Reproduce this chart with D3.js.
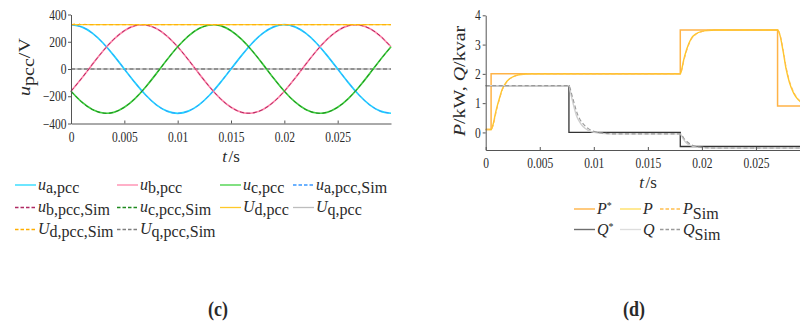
<!DOCTYPE html>
<html><head><meta charset="utf-8">
<script src="https://cdn.jsdelivr.net/npm/d3@7"></script>
<style>body{margin:0;background:#fff}svg{display:block}text{font-family:"Liberation Serif","DejaVu Serif",serif}</style>
</head><body>
<svg id="c" width="800" height="327"></svg>
<script>
// ---------- data: panel (c) ----------
const tU = [0,0.001,0.002,0.003,0.004,0.005,0.006,0.007,0.008,0.009,0.010,0.011,0.012,0.013,0.014,0.015,0.016,0.017,0.018,0.019,0.020,0.021,0.022,0.023,0.024,0.025,0.026,0.027,0.028,0.029,0.030];
const uA = [325,309,263,191,100,0,-100,-191,-263,-309,-325,-309,-263,-191,-100,0,100,191,263,309,325,309,263,191,100,0,-100,-191,-263,-309,-325];
const uB = [-163,-68,34,132,217,281,318,323,297,242,163,68,-34,-132,-217,-281,-318,-323,-297,-242,-163,-68,34,132,217,281,318,323,297,242,163];
const uC = [-163,-242,-297,-323,-318,-281,-217,-132,-34,68,163,242,297,323,318,281,217,132,34,-68,-163,-242,-297,-323,-318,-281,-217,-132,-34,68,163];
const uASim = [325,309,263,191,100,0,-100,-191,-263,-309,-325,-309,-263,-191,-100,0,100,191,263,309,325,309,263,191,100,0,-100,-191,-263,-309,-325];
const uBSim = [-163,-68,34,132,217,281,318,323,297,242,163,68,-34,-132,-217,-281,-318,-323,-297,-242,-163,-68,34,132,217,281,318,323,297,242,163];
const uCSim = [-163,-242,-297,-323,-318,-281,-217,-132,-34,68,163,242,297,323,318,281,217,132,34,-68,-163,-242,-297,-323,-318,-281,-217,-132,-34,68,163];
const tUd = [0,0.03];
const uD = [325,325];
const tUdSim = [0,0.0004,0.0006,0.0008,0.001,0.0013,0.0016,0.03];
const uDSim = [325,331,322,330,323,328,325,325];
const tUq = [0,0.03];
const uQ = [0,0];
const uQSim = [0,0];
const uTicks = [-400,-200,0,200,400];
const uTickLabels = ['\u2212400','\u2212200','0','200','400'];
const tTicks = [0,0.005,0.01,0.015,0.02,0.025];
const tTickLabels = ['0','0.005','0.01','0.015','0.02','0.025'];

// ---------- data: panel (d) ----------
const tPref = [0,0.0005,0.018,0.027,0.03];
const pRef  = [0.1,2,3.5,0.9,0.9];
const tQref = [0,0.0077,0.018,0.03];
const qRef  = [1.6,0,-0.48,-0.48];
const tP = [0,0.0005,0.0007,0.0009,0.0011,0.0013,0.0015,0.0018,0.0022,0.0027,0.0033,0.004,0.018,0.0181,0.0183,0.0186,0.019,0.0195,0.02,0.0205,0.0212,0.022,0.027,0.0272,0.0275,0.0278,0.0281,0.0285,0.0289,0.0294,0.03];
const pMeas = [0.1,0.1,0.3,0.65,0.95,1.2,1.45,1.66,1.83,1.93,1.98,2.0,2.0,2.1,2.45,2.85,3.2,3.38,3.45,3.48,3.5,3.5,3.5,3.35,2.8,2.15,1.7,1.33,1.12,0.99,0.93];
const pSim  = [0.1,0.1,0.25,0.58,0.9,1.16,1.41,1.63,1.81,1.92,1.98,2.0,2.0,2.08,2.4,2.8,3.16,3.36,3.44,3.48,3.5,3.5,3.5,3.38,2.86,2.22,1.76,1.38,1.15,1.0,0.93];
const tQ = [0,0.0077,0.0078,0.008,0.0082,0.0084,0.0087,0.009,0.0095,0.01,0.011,0.012,0.018,0.0181,0.0183,0.0186,0.019,0.0195,0.0202,0.021,0.03];
const qMeas = [1.6,1.6,1.45,1.12,0.82,0.57,0.35,0.2,0.07,0.0,-0.04,-0.05,-0.05,-0.1,-0.24,-0.37,-0.45,-0.5,-0.52,-0.53,-0.53];
const qSim  = [1.6,1.6,1.52,1.25,0.98,0.72,0.46,0.3,0.13,0.04,-0.03,-0.05,-0.05,-0.07,-0.18,-0.31,-0.41,-0.48,-0.52,-0.53,-0.53];
const pqTicks = [0,1,2,3,4];
const pqTickLabels = ['0','1','2','3','4'];

// ---------- drawing ----------
const svg = d3.select('#c');
const FONT = '"Liberation Serif","DejaVu Serif",serif';
const TXT = '#2a2a2a';
const AX = '#555';

function rich(parent, x, y, parts, o = {}) {
  const size = o.size || 16, sy = o.sy || 1, rot = o.rot || 0;
  const g = parent.append('g').attr('transform', `translate(${x},${y}) scale(1,${sy}) rotate(${rot})`);
  const t = g.append('text').style('font-family', FONT).attr('font-size', size).attr('fill', TXT)
    .attr('text-anchor', o.anchor || 'start').attr('font-weight', o.weight || 'normal');
  let cur = 0;
  parts.forEach(p => {
    const off = p.off || 0;
    const s = t.append('tspan').text(p.t).attr('dy', off - cur);
    cur = off;
    if (p.it) s.attr('font-style', 'italic');
    if (p.size) s.attr('font-size', p.size);
    if (p.dx) s.attr('dx', p.dx);
  });
  return g;
}

function drawAxes(g, x, y, xt, xtl, yt, ytl, xLabY, yLabX) {
  const ax = g.append('g').attr('transform', `translate(0,${y.range()[0]})`)
    .call(d3.axisBottom(x).tickValues(xt).tickFormat((d, i) => xtl[i]).tickSizeInner(-3).tickSizeOuter(0));
  const ay = g.append('g').attr('transform', `translate(${x.range()[0]},0)`)
    .call(d3.axisLeft(y).tickValues(yt).tickFormat((d, i) => ytl[i]).tickSizeInner(3).tickSizeOuter(0));
  [ax, ay].forEach(a => {
    a.attr('font-family', null);
    a.select('.domain').attr('stroke', AX);
    a.selectAll('.tick line').attr('stroke', AX);
    a.selectAll('.tick text').attr('fill', TXT).style('font-family', FONT).attr('font-size', 11.5);
  });
  ax.selectAll('.tick text').attr('y', null).attr('dy', null)
    .attr('transform', `translate(0,${xLabY}) scale(1,1.25)`);
  ay.selectAll('.tick text').attr('x', null).attr('dy', null)
    .attr('transform', `translate(${yLabX},4.6) scale(1,1.25)`);
}

function line(g, x, y, ts, vs, color, opts = {}) {
  const data = ts.map((t, i) => [t, vs[i]]);
  g.append('path').datum(data)
    .attr('fill', 'none').attr('stroke', color).attr('stroke-width', opts.w || 1.3)
    .attr('stroke-dasharray', opts.dash ? '4,2.5' : null)
    .attr('d', d3.line().x(d => x(d[0])).y(d => y(d[1])).curve(opts.curve || d3.curveLinear));
}

// ===== panel (c) =====
const gL = svg.append('g');
const xL = d3.scaleLinear().domain([0, 0.03]).range([71, 391]);
const yL = d3.scaleLinear().domain([-400, 400]).range([123.5, 14.5]);
const colC = {
  ua: '#1fd8ff', ub: '#ff85aa', uc: '#3fcf3f',
  uaS: '#3a98ff', ubS: '#b02a63', ucS: '#1f8a1f',
  ud: '#ffc929', uq: '#bdbdbd', udS: '#ffae00', uqS: '#7f7f7f'
};
line(gL, xL, yL, tUq, uQ, colC.uq);
line(gL, xL, yL, tUq, uQSim, colC.uqS, {dash: true});
line(gL, xL, yL, tU, uA, colC.ua, {curve: d3.curveNatural, w: 1.7});
line(gL, xL, yL, tU, uB, colC.ub, {curve: d3.curveNatural, w: 1.7});
line(gL, xL, yL, tU, uC, colC.uc, {curve: d3.curveNatural, w: 1.7});
line(gL, xL, yL, tU, uASim, colC.uaS, {curve: d3.curveNatural, dash: true, w: 1});
line(gL, xL, yL, tU, uBSim, colC.ubS, {curve: d3.curveNatural, dash: true, w: 1});
line(gL, xL, yL, tU, uCSim, colC.ucS, {curve: d3.curveNatural, dash: true, w: 1});
line(gL, xL, yL, tUd, uD, colC.ud);
line(gL, xL, yL, tUdSim, uDSim, colC.udS, {dash: true, w: 1});
drawAxes(gL, xL, yL, tTicks, tTickLabels, uTicks, uTickLabels, 18, -4.5);
rich(gL, 231, 161.5, [{t: 't', it: 1}, {t: '/s', dx: 1.5}], {anchor: 'middle', size: 17});
rich(gL, 30, 67, [{t: 'u', it: 1}, {t: 'pcc', off: 4}, {t: '/V'}], {anchor: 'middle', sy: 1.25, rot: -90});

// legend (c)
const legC = [
  {p: [{t:'u',it:1},{t:'a,pcc',off:3}], c: colC.ua, d: 0},
  {p: [{t:'u',it:1},{t:'b,pcc',off:3}], c: colC.ub, d: 0},
  {p: [{t:'u',it:1},{t:'c,pcc',off:3}], c: colC.uc, d: 0},
  {p: [{t:'u',it:1},{t:'a,pcc,Sim',off:3}], c: colC.uaS, d: 1},
  {p: [{t:'u',it:1},{t:'b,pcc,Sim',off:3}], c: colC.ubS, d: 1},
  {p: [{t:'u',it:1},{t:'c,pcc,Sim',off:3}], c: colC.ucS, d: 1},
  {p: [{t:'U',it:1},{t:'d,pcc',off:3}], c: colC.ud, d: 0},
  {p: [{t:'U',it:1},{t:'q,pcc',off:3}], c: colC.uq, d: 0},
  {p: [{t:'U',it:1},{t:'d,pcc,Sim',off:3}], c: colC.udS, d: 1},
  {p: [{t:'U',it:1},{t:'q,pcc,Sim',off:3}], c: colC.uqS, d: 1}
];
const colX = [15, 117, 220, 293];
const rowY = [185, 207.5, 229.5];
legC.forEach((it, i) => {
  const cx = colX[i % 4], cy = rowY[Math.floor(i / 4)];
  gL.append('line').attr('x1', cx).attr('x2', cx + 21).attr('y1', cy).attr('y2', cy)
    .attr('stroke', it.c).attr('stroke-width', 1.3).attr('stroke-dasharray', it.d ? '3.5,2' : null);
  rich(gL, cx + 23, cy + 4.5, it.p, {size: 16});
});
rich(gL, 218, 316, [{t: '(c)'}], {anchor: 'middle', size: 18, weight: 'bold', sy: 1.2});

// ===== panel (d) =====
const gR = svg.append('g');
const xR = d3.scaleLinear().domain([0, 0.03]).range([485.7, 810]);
const yR = d3.scaleLinear().domain([-0.6, 4]).range([150, 15.3]);
const colD = {ps: '#ffb347', p: '#ffc726', pS: '#ffbe4d', qs: '#333333', q: '#d0d0d0', qS: '#9a9a9a'};
line(gR, xR, yR, tPref, pRef, colD.ps, {curve: d3.curveStepAfter, w: 1.5});
line(gR, xR, yR, tP, pMeas, colD.p, {curve: d3.curveMonotoneX, w: 1.4});
line(gR, xR, yR, tP, pSim, colD.pS, {curve: d3.curveMonotoneX, dash: true, w: 1});
line(gR, xR, yR, tQref, qRef, colD.qs, {curve: d3.curveStepAfter, w: 1.3});
line(gR, xR, yR, tQ, qMeas, colD.q, {curve: d3.curveMonotoneX, w: 1.4});
line(gR, xR, yR, tQ, qSim, colD.qS, {curve: d3.curveMonotoneX, dash: true, w: 1.1});
drawAxes(gR, xR, yR, tTicks, tTickLabels, pqTicks, pqTickLabels, 17.5, -5);
rich(gR, 648, 188, [{t: 't', it: 1}, {t: '/s', dx: 1.5}], {anchor: 'middle', size: 17});
rich(gR, 465, 81, [{t: 'P', it: 1}, {t: '/kW,  '}, {t: 'Q', it: 1}, {t: '/kvar'}], {anchor: 'middle', sy: 1.25, rot: -90});

const legD = [
  {p: [{t:'P',it:1},{t:'*',off:-5,size:10}], c: colD.ps, d: 0},
  {p: [{t:'P',it:1}], c: '#ffe066', d: 0},
  {p: [{t:'P',it:1},{t:'Sim',off:5}], c: colD.pS, d: 1},
  {p: [{t:'Q',it:1},{t:'*',off:-5,size:10}], c: '#6e6e6e', d: 0},
  {p: [{t:'Q',it:1}], c: '#dddddd', d: 0},
  {p: [{t:'Q',it:1},{t:'Sim',off:5}], c: colD.qS, d: 1}
];
const colXD = [574, 620, 660];
const rowYD = [209, 229.5];
legD.forEach((it, i) => {
  const cx = colXD[i % 3], cy = rowYD[Math.floor(i / 3)];
  gR.append('line').attr('x1', cx).attr('x2', cx + 21).attr('y1', cy).attr('y2', cy)
    .attr('stroke', it.c).attr('stroke-width', 1.4).attr('stroke-dasharray', it.d ? '3.5,2' : null);
  rich(gR, cx + 23, cy + 5, it.p, {size: 16});
});
rich(gR, 634, 316, [{t: '(d)'}], {anchor: 'middle', size: 18, weight: 'bold', sy: 1.2});
</script>
</body></html>
